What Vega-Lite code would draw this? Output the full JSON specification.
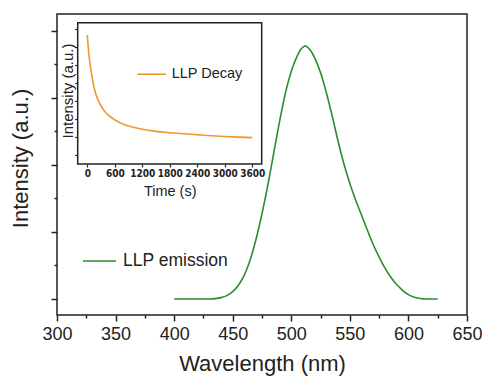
{
  "$schema": "https://vega.github.io/schema/vega-lite/v6.json",
  "width": 410,
  "height": 301,
  "autosize": "none",
  "padding": {"left": 57, "top": 14, "right": 15, "bottom": 63},
  "background": "white",
  "config": {
    "font": "Liberation Sans",
    "view": {"stroke": "#222", "strokeWidth": 1.5},
    "axis": {"labelColor": "#222", "titleColor": "#222", "tickColor": "#222", "titleFontWeight": "normal", "grid": false},
    "legend": {"labelColor": "#222"}
  },
  "layer": [
    {
      "data": {"values": [
        {"wl": 400, "v": 0, "series": "LLP emission"},
        {"wl": 410, "v": 0, "series": "LLP emission"},
        {"wl": 420, "v": 0, "series": "LLP emission"},
        {"wl": 430, "v": 0, "series": "LLP emission"},
        {"wl": 435, "v": 0.01, "series": "LLP emission"},
        {"wl": 440, "v": 0.04, "series": "LLP emission"},
        {"wl": 445, "v": 0.1, "series": "LLP emission"},
        {"wl": 450, "v": 0.22, "series": "LLP emission"},
        {"wl": 455, "v": 0.42, "series": "LLP emission"},
        {"wl": 460, "v": 0.72, "series": "LLP emission"},
        {"wl": 465, "v": 1.18, "series": "LLP emission"},
        {"wl": 470, "v": 1.8, "series": "LLP emission"},
        {"wl": 475, "v": 2.55, "series": "LLP emission"},
        {"wl": 480, "v": 3.4, "series": "LLP emission"},
        {"wl": 485, "v": 4.35, "series": "LLP emission"},
        {"wl": 490, "v": 5.3, "series": "LLP emission"},
        {"wl": 495, "v": 6.15, "series": "LLP emission"},
        {"wl": 500, "v": 6.8, "series": "LLP emission"},
        {"wl": 505, "v": 7.25, "series": "LLP emission"},
        {"wl": 508, "v": 7.45, "series": "LLP emission"},
        {"wl": 510, "v": 7.52, "series": "LLP emission"},
        {"wl": 512, "v": 7.55, "series": "LLP emission"},
        {"wl": 514, "v": 7.51, "series": "LLP emission"},
        {"wl": 516, "v": 7.44, "series": "LLP emission"},
        {"wl": 520, "v": 7.2, "series": "LLP emission"},
        {"wl": 525, "v": 6.75, "series": "LLP emission"},
        {"wl": 530, "v": 6.15, "series": "LLP emission"},
        {"wl": 535, "v": 5.45, "series": "LLP emission"},
        {"wl": 540, "v": 4.7, "series": "LLP emission"},
        {"wl": 545, "v": 4.02, "series": "LLP emission"},
        {"wl": 550, "v": 3.45, "series": "LLP emission"},
        {"wl": 555, "v": 2.95, "series": "LLP emission"},
        {"wl": 560, "v": 2.5, "series": "LLP emission"},
        {"wl": 565, "v": 2.05, "series": "LLP emission"},
        {"wl": 570, "v": 1.62, "series": "LLP emission"},
        {"wl": 575, "v": 1.25, "series": "LLP emission"},
        {"wl": 580, "v": 0.92, "series": "LLP emission"},
        {"wl": 585, "v": 0.65, "series": "LLP emission"},
        {"wl": 590, "v": 0.43, "series": "LLP emission"},
        {"wl": 595, "v": 0.26, "series": "LLP emission"},
        {"wl": 600, "v": 0.13, "series": "LLP emission"},
        {"wl": 605, "v": 0.05, "series": "LLP emission"},
        {"wl": 610, "v": 0.015, "series": "LLP emission"},
        {"wl": 615, "v": 0, "series": "LLP emission"},
        {"wl": 620, "v": 0, "series": "LLP emission"},
        {"wl": 625, "v": 0, "series": "LLP emission"}
      ]},
      "mark": {"type": "line", "strokeWidth": 1.6, "interpolate": "monotone"},
      "encoding": {
        "x": {
          "field": "wl", "type": "quantitative",
          "scale": {"domain": [300, 650], "nice": false, "zero": false},
          "axis": {
            "orient": "bottom",
            "title": "Wavelength (nm)",
            "values": [300, 325, 350, 375, 400, 425, 450, 475, 500, 525, 550, 575, 600, 625, 650],
            "format": "d",
            "labelExpr": "datum.value % 50 === 0 ? datum.label : ''",
            "tickSize": {"condition": {"test": "datum.value % 50 === 0", "value": 6}, "value": 3},
            "tickWidth": 1.5,
            "domain": false,
            "labelFontSize": 18,
            "labelPadding": 4,
            "labelFlush": false,
            "labelOverlap": false,
            "titleFontSize": 22,
            "titleY": 55,
            "titleBaseline": "alphabetic"
          }
        },
        "y": {
          "field": "v", "type": "quantitative",
          "scale": {"domain": [-0.478, 8.507], "nice": false, "zero": false},
          "axis": {
            "orient": "left",
            "title": "Intensity (a.u.)",
            "values": [0, 1, 2, 3, 4, 5, 6, 7, 8],
            "labels": false,
            "tickSize": {"condition": {"test": "datum.value % 2 === 0", "value": 6}, "value": 3},
            "tickWidth": 1.5,
            "domain": false,
            "titleFontSize": 22,
            "titleX": -29.5,
            "titleY": 144,
            "titleAngle": 270,
            "titleAlign": "center",
            "titleBaseline": "alphabetic"
          }
        },
        "color": {
          "field": "series", "type": "nominal",
          "scale": {"range": ["#2e8b2e"]},
          "legend": {
            "orient": "none", "legendX": 25, "legendY": 229.5,
            "title": null, "padding": 0,
            "symbolType": "stroke", "symbolSize": 1089, "symbolStrokeWidth": 1.6,
            "labelFontSize": 17.5, "labelOffset": 6, "labelColor": "#222"
          }
        }
      }
    },
    {
      "data": {"values": [
        {"t": 0, "v": 129, "series": "LLP Decay"},
        {"t": 30, "v": 112, "series": "LLP Decay"},
        {"t": 60, "v": 100, "series": "LLP Decay"},
        {"t": 100, "v": 88, "series": "LLP Decay"},
        {"t": 150, "v": 76, "series": "LLP Decay"},
        {"t": 200, "v": 68, "series": "LLP Decay"},
        {"t": 250, "v": 62.5, "series": "LLP Decay"},
        {"t": 300, "v": 58, "series": "LLP Decay"},
        {"t": 400, "v": 51.5, "series": "LLP Decay"},
        {"t": 500, "v": 47.5, "series": "LLP Decay"},
        {"t": 600, "v": 44.2, "series": "LLP Decay"},
        {"t": 800, "v": 39.5, "series": "LLP Decay"},
        {"t": 1000, "v": 36.8, "series": "LLP Decay"},
        {"t": 1200, "v": 34.7, "series": "LLP Decay"},
        {"t": 1500, "v": 32.6, "series": "LLP Decay"},
        {"t": 1800, "v": 31.3, "series": "LLP Decay"},
        {"t": 2100, "v": 30.2, "series": "LLP Decay"},
        {"t": 2400, "v": 29.2, "series": "LLP Decay"},
        {"t": 2700, "v": 28.3, "series": "LLP Decay"},
        {"t": 3000, "v": 27.5, "series": "LLP Decay"},
        {"t": 3300, "v": 26.9, "series": "LLP Decay"},
        {"t": 3600, "v": 26.4, "series": "LLP Decay"}
      ]},
      "layer": [
        {
          "data": {"values": [{}]},
          "mark": {"type": "rect", "fill": "white", "stroke": "#222", "strokeWidth": 1.5},
          "encoding": {
            "x": {"datum": -209.5, "type": "quantitative"},
            "x2": {"datum": 3805},
            "y": {"datum": 0, "type": "quantitative"},
            "y2": {"datum": 141.3}
          }
        },
        {
          "mark": {"type": "line", "strokeWidth": 1.6, "interpolate": "monotone"},
          "encoding": {
            "x": {
              "field": "t", "type": "quantitative",
              "scale": {"domain": [-209.5, 3805], "range": [20.7, 204.7], "nice": false, "zero": false},
              "axis": {
                "orient": "bottom",
                "offset": -151,
                "title": "Time (s)",
                "values": [0, 300, 600, 900, 1200, 1500, 1800, 2100, 2400, 2700, 3000, 3300, 3600],
                "format": "d",
                "labelExpr": "datum.value % 600 === 0 ? datum.label : ''",
                "tickSize": 3,
                "tickWidth": 1.2,
                "domain": false,
                "labelFont": "Liberation Sans Narrow, DejaVu Sans Condensed, Liberation Sans",
                "labelFontWeight": "bold",
                "labelFontSize": 10,
                "labelPadding": 1,
                "labelFlush": false,
                "labelOverlap": false,
                "titleFontSize": 14.5,
                "titleY": 31,
                "titleBaseline": "alphabetic"
              }
            },
            "y": {
              "field": "v", "type": "quantitative",
              "scale": {"domain": [0, 141.3], "range": [150, 8.7], "nice": false, "zero": false},
              "axis": {
                "orient": "left",
                "offset": -20.7,
                "title": "Intensity (a.u.)",
                "values": [9, 18, 27, 36, 45, 54, 63, 72, 81, 90, 99, 108, 117, 126, 135],
                "labels": false,
                "tickSize": 3,
                "tickWidth": 1.2,
                "domain": false,
                "titleFontSize": 15,
                "titleX": -5.2,
                "titleY": 76.5,
                "titleAngle": 270,
                "titleAlign": "center",
                "titleBaseline": "alphabetic"
              }
            },
            "color": {
              "field": "series", "type": "nominal",
              "scale": {"range": ["#f0962f"]},
              "legend": {
                "orient": "none", "legendX": 79.7, "legendY": 45.2,
                "title": null, "padding": 0,
                "symbolType": "stroke", "symbolSize": 800, "symbolStrokeWidth": 1.6,
                "labelFontSize": 14.5, "labelOffset": 5, "labelColor": "#222"
              }
            }
          }
        }
      ]
    }
  ],
  "resolve": {
    "scale": {"x": "independent", "y": "independent", "color": "independent"},
    "axis": {"x": "independent", "y": "independent"},
    "legend": {"color": "independent"}
  }
}
